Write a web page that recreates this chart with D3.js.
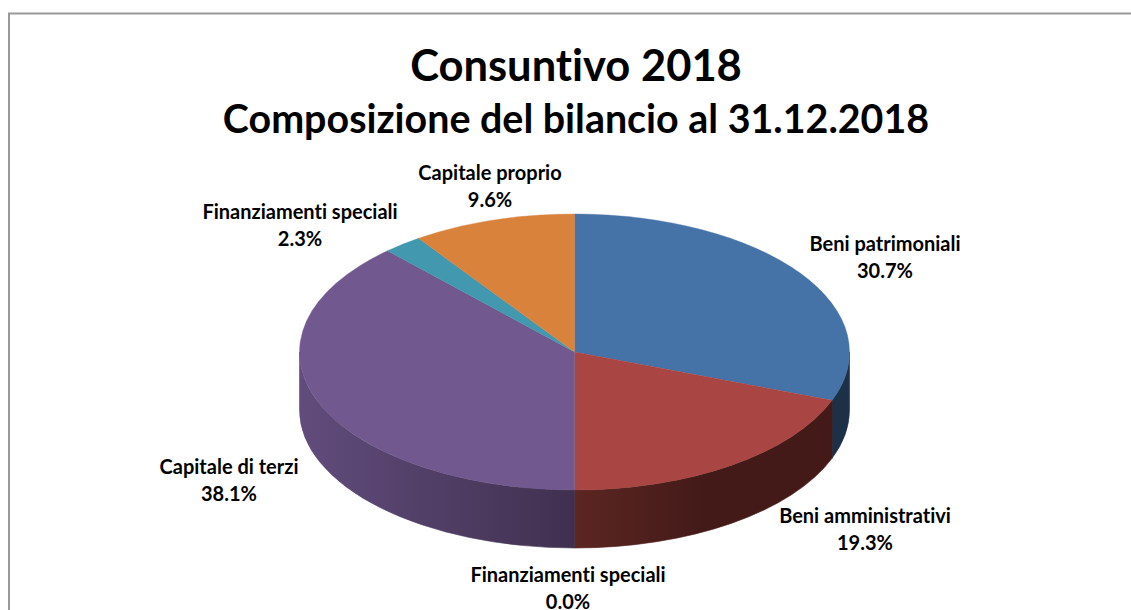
<!DOCTYPE html>
<html lang="en">
<head>
  <meta charset="UTF-8">
  <title>Consuntivo 2018</title>
  <script src="https://d3js.org/d3.v7.min.js"></script>
  <style>
    html, body { margin: 0; padding: 0; background: #fff; overflow: hidden; }
    svg { display: block; }
    text { font-family: Lato, "Open Sans", sans-serif; font-weight: 700; fill: #000; text-anchor: middle; font-variant-ligatures: none; }
    .label { font-size: 20px; }
  </style>
</head>
<body>
  <div id="chart"></div>

  <script>
    // Data
    const categories = ["Beni patrimoniali", "Beni amministrativi", "Finanziamenti speciali",
      "Capitale di terzi", "Finanziamenti speciali", "Capitale proprio"];
    const values = [30.7, 19.3, 0.0, 38.1, 2.3, 9.6];
    const topColors = ["#4572a7", "#a94543", "#8a9a4e", "#71588f", "#4198af", "#d8823c"];
    // side wall colours, left end then right end
    const sideColors = [["#1c3048", "#1c3048"], ["#5c2622", "#431a18"], ["#4a5228", "#4a5228"],
      ["#614c7c", "#40304f"], ["#1f4a56", "#1f4a56"], ["#6b3f1c", "#6b3f1c"]];
    const titleLines = ["Consuntivo 2018", "Composizione del bilancio al 31.12.2018"];

    const width = 1131, height = 610;
    const cx = 574.5, cy = 352, rx = 275, ry = 138, depth = 58;

    // Label centres, one per category
    const labelX = [885, 865, 568, 229, 300, 490];
    const labelY = [251, 523, 582, 474, 219, 180];

    const svg = d3.select("#chart").append("svg")
      .attr("width", width)
      .attr("height", height);

    // Frame, only partly inside the crop
    svg.append("path")
      .attr("d", "M9," + height + "V13.5H" + width)
      .attr("fill", "none")
      .attr("stroke", "#999")
      .attr("stroke-width", 2);

    svg.selectAll(".title")
      .data(titleLines)
      .enter()
      .append("text")
      .attr("class", "title")
      .attr("x", 576)
      .attr("y", (d, i) => i === 0 ? 81 : 133)
      .style("font-size", (d, i) => i === 0 ? "43.5px" : "39.4px")
      .text(d => d);

    const pie = d3.pie().sort(null).value(d => d);
    const slices = pie(values);

    // Angles run clockwise from the top. Rim point on the tilted ellipse:
    const rimX = a => rx * Math.sin(a);
    const rimY = a => -ry * Math.cos(a);

    // Horizontal gradients for the side wall
    const defs = svg.append("defs");
    slices.forEach((s, i) => {
      const a0 = Math.max(s.startAngle, Math.PI / 2);
      const a1 = Math.min(s.endAngle, 3 * Math.PI / 2);
      const grad = defs.append("linearGradient")
        .attr("id", "side" + i)
        .attr("gradientUnits", "userSpaceOnUse")
        .attr("x1", rimX(a1))
        .attr("x2", rimX(a0))
        .attr("y1", 0).attr("y2", 0);
      grad.append("stop").attr("offset", 0).attr("stop-color", sideColors[i][0]);
      // the red wall reaches its dark end about half way along
      grad.append("stop").attr("offset", i === 1 ? 0.5 : 1).attr("stop-color", sideColors[i][1]);
    });

    const g = svg.append("g")
      .attr("transform", "translate(" + cx + "," + cy + ")");

    // Side wall: only the front half of the pie shows one
    const front = slices
      .map((s, i) => ({ i, a0: Math.max(s.startAngle, Math.PI / 2), a1: Math.min(s.endAngle, 3 * Math.PI / 2) }))
      .filter(d => d.a1 > d.a0);

    g.selectAll(".side")
      .data(front)
      .enter()
      .append("path")
      .attr("class", "side")
      .attr("fill", d => "url(#side" + d.i + ")")
      .attr("stroke", d => "url(#side" + d.i + ")")
      .attr("stroke-width", 0.6)
      .attr("d", d => {
        const large = d.a1 - d.a0 > Math.PI ? 1 : 0;
        return "M" + rimX(d.a0) + "," + rimY(d.a0)
          + "A" + rx + "," + ry + " 0 " + large + " 1 " + rimX(d.a1) + "," + rimY(d.a1)
          + "V" + (rimY(d.a1) + depth)
          + "A" + rx + "," + ry + " 0 " + large + " 0 " + rimX(d.a0) + "," + (rimY(d.a0) + depth)
          + "Z";
      });

    // Top face: d3.arc on a circle, squashed into the ellipse
    const arc = d3.arc().innerRadius(0).outerRadius(rx);
    g.append("g")
      .attr("transform", "scale(1," + (ry / rx) + ")")
      .selectAll(".slice")
      .data(slices.filter(d => d.data > 0))
      .enter()
      .append("path")
      .attr("class", "slice")
      .attr("d", arc)
      .attr("fill", d => topColors[d.index])
      .attr("stroke", d => topColors[d.index])
      .attr("stroke-width", 0.5);

    // Labels
    const fmt = d3.format(".1f");
    const labels = svg.selectAll(".label")
      .data(slices)
      .enter()
      .append("text")
      .attr("class", "label")
      .attr("x", (d, i) => labelX[i])
      .attr("y", (d, i) => labelY[i]);
    labels.append("tspan").text((d, i) => categories[i]);
    labels.append("tspan")
      .attr("x", (d, i) => labelX[i])
      .attr("dy", 26.5)
      .text(d => fmt(d.data) + "%");
  </script>
</body>
</html>
